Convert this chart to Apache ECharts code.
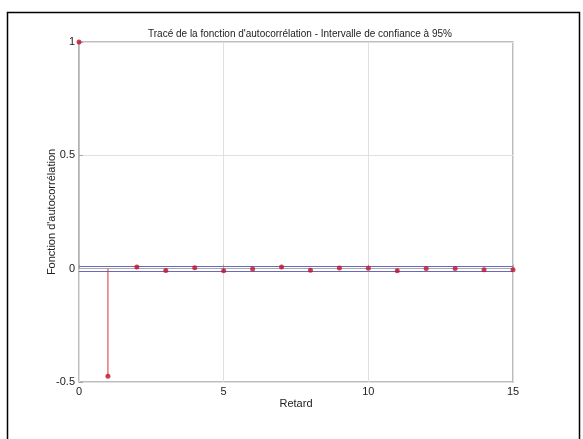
<!DOCTYPE html>
<html>
<head>
<meta charset="utf-8">
<script src="https://cdn.jsdelivr.net/npm/echarts@6/dist/echarts.min.js"></script>
<style>
  html, body { margin: 0; padding: 0; background: #fff; }
  #chart { width: 583px; height: 439px; }
</style>
</head>
<body>
<div id="chart"></div>
<script>
// retards (lags) et valeurs de l'autocorrélation
var lags = [0, 1, 2, 3, 4, 5, 6, 7, 8, 9, 10, 11, 12, 13, 14, 15];
var acf = [1, -0.475, 0.007, -0.008, 0.004, -0.009, -0.001, 0.007, -0.007, 0.003, 0.002, -0.009, 0.001, 0.001, -0.005, -0.005];
var confBound = 0.0135; // intervalle de confiance à 95%
var yTicks = [-0.5, 0, 0.5, 1];
var xTicks = [0, 5, 10, 15];

var BOX = '#a8a8a8';
var points = lags.map(function (l, i) { return [l, acf[i]]; });
// la tige du retard 0 se confond avec le bord gauche de l'axe
var stems = points.map(function (p) {
  return p[0] === 0 ? { value: p, itemStyle: { color: BOX } } : { value: p };
});

var chart = echarts.init(document.getElementById('chart'));

var txt = { fontFamily: 'Liberation Sans', fontSize: 11, color: '#222' };

var option = {
  animation: false,
  backgroundColor: '#fff',
  title: {
    text: "Tracé de la fonction d'autocorrélation - Intervalle de confiance à 95%",
    left: 295,
    textAlign: 'center',
    top: 24,
    textStyle: { fontFamily: 'Liberation Sans', fontSize: 10, fontWeight: 'normal', color: '#222' }
  },
  graphic: [{
    type: 'rect',
    left: 5, top: 10,
    shape: { width: 572, height: 440 },
    style: { fill: 'none', stroke: '#000', lineWidth: 1.5 },
    silent: true
  }],
  grid: {
    left: 79, right: 70, top: 42, bottom: 57,
    show: true,
    borderColor: BOX,
    borderWidth: 1.5
  },
  xAxis: {
    type: 'value',
    min: xTicks[0], max: xTicks[xTicks.length - 1], interval: 5,
    name: 'Retard',
    nameLocation: 'middle',
    nameGap: 16,
    nameMoveOverlap: false,
    nameTextStyle: txt,
    axisLine: { show: false },
    axisTick: { show: true, inside: true, length: 4, lineStyle: { color: BOX } },
    axisLabel: Object.assign({ margin: 4 }, txt),
    splitLine: { show: true, lineStyle: { color: '#e0e0e0', width: 1 } }
  },
  yAxis: {
    type: 'value',
    min: yTicks[0], max: yTicks[yTicks.length - 1], interval: 0.5,
    name: "Fonction d'autocorrélation",
    nameLocation: 'middle',
    nameGap: 22,
    nameMoveOverlap: false,
    nameTextStyle: txt,
    axisLine: { show: false },
    axisTick: { show: true, inside: true, length: 4, lineStyle: { color: BOX } },
    axisLabel: Object.assign({ margin: 4 }, txt),
    splitLine: { show: true, lineStyle: { color: '#e0e0e0', width: 1 } }
  },
  series: [
    {
      // ligne zéro et bornes de confiance
      type: 'line',
      data: [],
      silent: true,
      z: 1,
      markLine: {
        symbol: 'none',
        silent: true,
        z: 1,
        label: { show: false },
        data: [
          { yAxis: 0, lineStyle: { color: BOX, width: 1, type: 'solid' } },
          { yAxis: confBound, lineStyle: { color: '#6a6ab8', width: 1, type: 'solid' } },
          { yAxis: -confBound, lineStyle: { color: '#6a6ab8', width: 1, type: 'solid' } }
        ]
      }
    },
    {
      // tiges
      type: 'bar',
      data: stems,
      barWidth: 1,
      itemStyle: { color: '#e03030' },
      silent: true,
      z: 2
    },
    {
      // points
      type: 'scatter',
      data: points,
      symbol: 'circle',
      symbolSize: 5,
      clip: false,
      itemStyle: { color: '#c0102a' },
      z: 10
    }
  ]
};

chart.setOption(option);
</script>
</body>
</html>
